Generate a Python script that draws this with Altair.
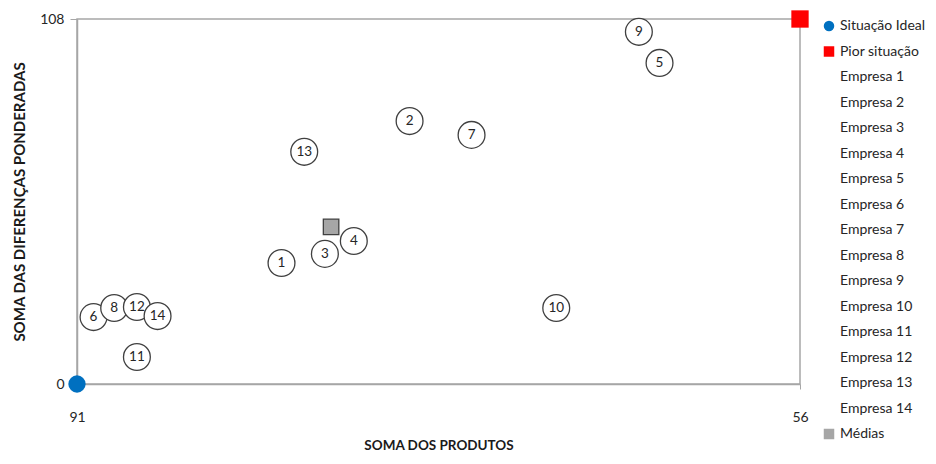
import altair as alt
import pandas as pd

# ---- data ----
series_order = (["Situação Ideal", "Pior situação"]
                + [f"Empresa {i}" for i in range(1, 15)]
                + ["Médias"])

emp_labels = [str(i) for i in range(1, 15)]
emp_x = [81.1, 74.9, 79.0, 77.6, 62.8, 90.2, 71.9, 89.2, 63.8, 67.8, 88.1, 88.1, 80.0, 87.1]
emp_y = [35.8, 77.8, 38.5, 42.3, 95.0, 19.8, 73.7, 22.5, 104.2, 22.5, 8.0, 22.8, 68.7, 20.1]

ref_names = ["Situação Ideal", "Pior situação"]
ref_x = [91, 56]
ref_y = [0, 108]

media_x = [78.7]
media_y = [46.5]

x_ticks = [91, 56]
y_ticks = [0, 108]

# ---- tables ----
emp_df = pd.DataFrame({
    "serie": [f"Empresa {i}" for i in range(1, 15)],
    "label": emp_labels,
    "x": emp_x,
    "y": emp_y,
})
ref_df = pd.DataFrame({"serie": ref_names, "x": ref_x, "y": ref_y})
med_df = pd.DataFrame({"serie": ["Médias"], "x": media_x, "y": media_y})

fill_range = ["#0070C0", "#FF0000"] + ["#FFFFFF"] * 14 + ["#A6A6A6"]
shape_range = ["circle", "square"] + ["circle"] * 14 + ["square"]

FONT = "Lato"

x_enc = alt.X("x:Q",
              scale=alt.Scale(domain=[56, 91], reverse=True, nice=False, zero=False),
              axis=alt.Axis(values=x_ticks, title="SOMA DOS PRODUTOS", grid=False,
                            tickSize=5, labelPadding=21, titlePadding=14,
                            labelFlush=False, titleFontSize=13.5))
y_enc = alt.Y("y:Q",
              scale=alt.Scale(domain=[0, 108], nice=False, zero=False),
              axis=alt.Axis(values=y_ticks, title="SOMA DAS DIFERENÇAS PONDERADAS",
                            grid=False, tickSize=7, labelPadding=6, titlePadding=12,
                            labelFlush=False, titleFontSize=15))

legend = alt.Legend(title=None, orient="right", offset=22, labelFontSize=14,
                    labelFont=FONT, labelColor="#262626", symbolSize=110,
                    symbolStrokeWidth=0, rowPadding=11.5, labelOffset=4,
                    padding=0, labelLimit=200)

fill_enc = alt.Fill("serie:N", scale=alt.Scale(domain=series_order, range=fill_range),
                    legend=legend)
shape_enc = alt.Shape("serie:N", scale=alt.Scale(domain=series_order, range=shape_range),
                      legend=legend)

emp_pts = alt.Chart(emp_df).mark_point(
    filled=True, size=720, stroke="#404040", strokeWidth=1.3, opacity=1
).encode(x=x_enc, y=y_enc, fill=fill_enc, shape=shape_enc)

emp_txt = alt.Chart(emp_df).mark_text(
    font=FONT, fontSize=13.5, color="#262626"
).encode(x="x:Q", y="y:Q", text="label:N")

ref_pts = alt.Chart(ref_df).mark_point(
    filled=True, size=300, strokeWidth=0, opacity=1
).encode(x=x_enc, y=y_enc, fill=fill_enc, shape=shape_enc)

med_pts = alt.Chart(med_df).mark_point(
    filled=True, size=240, stroke="#404040", strokeWidth=1.3, opacity=1
).encode(x=x_enc, y=y_enc, fill=fill_enc, shape=shape_enc)

chart = alt.layer(emp_pts, emp_txt, med_pts, ref_pts).properties(
    width=723, height=365,
    autosize=alt.AutoSizeParams(type="none"),
    padding={"left": 69, "top": 11, "right": 128, "bottom": 72},
).configure_view(
    stroke="#A6A6A6", strokeWidth=1.5
).configure_axis(
    domainColor="#A6A6A6", domainWidth=1.5, tickColor="#A6A6A6",
    labelFont=FONT, labelFontSize=14, labelColor="#262626",
    titleFont=FONT, titleFontWeight="bold", titleColor="#1a1a1a",
)

chart.save("out.html", embed_options={"renderer": "svg", "actions": False})
